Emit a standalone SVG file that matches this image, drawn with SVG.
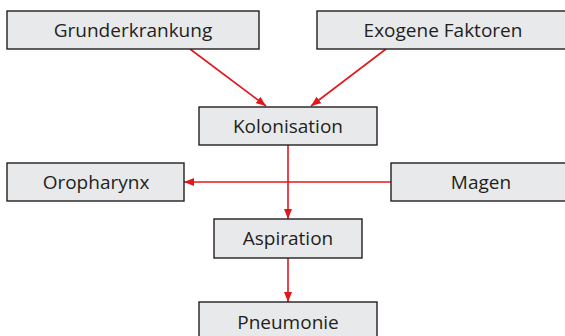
<svg xmlns="http://www.w3.org/2000/svg" width="565" height="336" viewBox="0 0 565 336">
<style>
.box{fill:#e8e9eb;stroke:#231f20;stroke-width:1.4}
.lbl{font-family:"Open Sans","Noto Sans",sans-serif;font-size:19px;fill:#231f20;text-anchor:middle}
.con{stroke:#e2171e;stroke-width:1.6;fill:none}
</style>
<defs>
<marker id="ah" viewBox="0 0 10 8" refX="10" refY="4" markerWidth="10" markerHeight="8" markerUnits="userSpaceOnUse" orient="auto">
<path d="M0,0 L10,4 L0,8 Z" fill="#e2171e"/>
</marker>
</defs>
<g id="connectors">
<line class="con" x1="190" y1="49" x2="266" y2="106" marker-end="url(#ah)"/>
<line class="con" x1="386" y1="49" x2="311" y2="106" marker-end="url(#ah)"/>
<line class="con" x1="288" y1="145" x2="288" y2="219" marker-end="url(#ah)"/>
<line class="con" x1="391" y1="182" x2="184" y2="182" marker-end="url(#ah)"/>
<line class="con" x1="288" y1="258" x2="288" y2="302" marker-end="url(#ah)"/>
</g>
<g id="grunderkrankung"><rect class="box" x="7" y="11" width="252" height="38"/><text class="lbl" x="133" y="37">Grunderkrankung</text></g>
<g id="exogene"><rect class="box" x="317" y="11" width="260" height="38"/><text class="lbl" x="443" y="37">Exogene Faktoren</text></g>
<g id="kolonisation"><rect class="box" x="199" y="107" width="178" height="38"/><text class="lbl" x="288" y="133">Kolonisation</text></g>
<g id="oropharynx"><rect class="box" x="7" y="163" width="177" height="38"/><text class="lbl" x="96" y="189">Oropharynx</text></g>
<g id="magen"><rect class="box" x="391" y="163" width="186" height="38"/><text class="lbl" x="481" y="189">Magen</text></g>
<g id="aspiration"><rect class="box" x="214" y="219" width="148" height="39"/><text class="lbl" x="288" y="245">Aspiration</text></g>
<g id="pneumonie"><rect class="box" x="199" y="302" width="178" height="40"/><text class="lbl" x="288" y="329">Pneumonie</text></g>
</svg>
